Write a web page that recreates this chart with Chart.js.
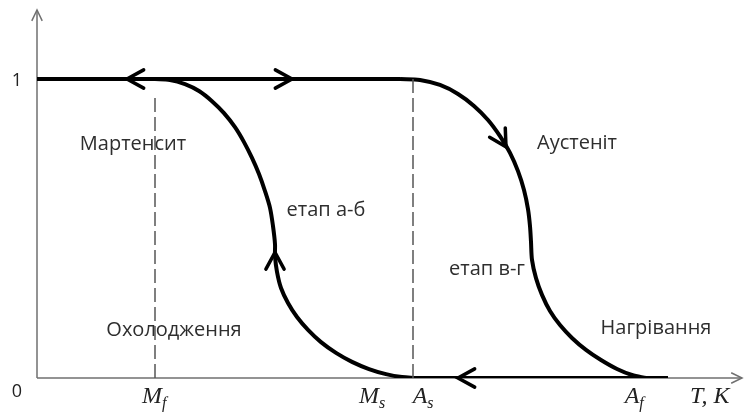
<!DOCTYPE html>
<html>
<head>
<meta charset="utf-8">
<script src="https://cdn.jsdelivr.net/npm/chart.js@4"></script>
<style>
  html, body { margin: 0; padding: 0; background: #fff; }
  #wrap { width: 744px; height: 412px; }
</style>
</head>
<body>
<div id="wrap"><canvas id="chart"></canvas></div>
<script>
// Heating branch (martensite -> austenite), temperature vs. phase fraction
const heatT = [363, 383, 403, 421, 437, 451, 463, 473, 481, 487, 491, 493, 494, 495, 499, 505, 513, 523, 535, 549, 564, 580, 595, 609]
const heatF = [1, 0.997, 0.98, 0.95, 0.91, 0.863, 0.809, 0.753, 0.692, 0.629, 0.565, 0.508, 0.455, 0.395, 0.334, 0.278, 0.224, 0.177, 0.134, 0.094, 0.06, 0.03, 0.01, 0]

// Cooling branch (austenite -> martensite)
const coolT = [118, 133, 148, 162, 175, 187, 198, 207, 215, 222, 228, 233, 236, 238, 238, 240, 244, 251, 260, 271, 284, 299, 315, 332, 349, 365, 378]
const coolF = [1, 0.997, 0.983, 0.96, 0.926, 0.886, 0.839, 0.789, 0.736, 0.682, 0.625, 0.569, 0.508, 0.448, 0.408, 0.355, 0.301, 0.251, 0.204, 0.161, 0.12, 0.084, 0.054, 0.03, 0.013, 0.003, 0]

// Flat parts of the loop
const topT = [0, 363]
const bottomT = [375, 631]

// Characteristic temperatures (dashed markers)
const Mf = 118
const As = 376

// Temperature tick labels: letter, subscript and where they sit
const tickMain = ['M', 'M', 'A', 'A']
const tickSub = ['f', 's', 's', 'f']
const tickAt = [115, 332, 383, 595]
const axisName = 'T, K'
const axisNameAt = 653

// Text inside the plot
const notes = ['Мартенсит', 'Аустеніт', 'етап а-б', 'етап в-г', 'Охолодження', 'Нагрівання']
const noteT = [96, 540, 289, 450, 137, 619]
const noteF = [0.783, 0.786, 0.562, 0.365, 0.161, 0.167]

// Direction arrows along the loop: tip and a point behind it
const arrowTip = [[90, 1], [255, 1], [421, 0], [469, 0.773], [238, 0.42]]
const arrowTail = [[110, 1], [235, 1], [441, 0], [459, 0.829], [238, 0.36]]

const toPoints = (xs, ys) => xs.map((x, i) => ({ x, y: ys[i] }))

const solid = {
  showLine: true,
  borderColor: '#000',
  borderWidth: 4,
  pointRadius: 0,
  fill: false,
}

function chevron(ctx, x, y, ang, len, spread) {
  ctx.beginPath()
  ctx.moveTo(x + len * Math.cos(ang + Math.PI - spread), y + len * Math.sin(ang + Math.PI - spread))
  ctx.lineTo(x, y)
  ctx.lineTo(x + len * Math.cos(ang + Math.PI + spread), y + len * Math.sin(ang + Math.PI + spread))
  ctx.stroke()
}

// Axes with arrow heads under the loop, labels and flow arrows on top
const axesPlugin = {
  id: 'axesPlugin',
  beforeDatasetsDraw(chart) {
    const { ctx, chartArea, scales: { x, y } } = chart
    const ox = x.getPixelForValue(0)
    const oy = y.getPixelForValue(0)
    ctx.save()
    ctx.strokeStyle = '#707070'
    ctx.lineWidth = 1.5
    ctx.beginPath()
    ctx.moveTo(ox, oy)
    ctx.lineTo(ox, chartArea.top)
    ctx.moveTo(ox, oy)
    ctx.lineTo(chartArea.right + 4, oy)
    ctx.stroke()
    chevron(ctx, ox, chartArea.top, -Math.PI / 2, 12, 0.45)
    chevron(ctx, chartArea.right + 4, oy, 0, 12, 0.45)
    ctx.restore()
  },
  afterDatasetsDraw(chart) {
    const { ctx, scales: { x, y } } = chart
    ctx.save()

    // flow arrows
    ctx.strokeStyle = '#000'
    ctx.lineWidth = 3.5
    ctx.lineCap = 'round'
    arrowTip.forEach((tip, i) => {
      const px = x.getPixelForValue(tip[0])
      const py = y.getPixelForValue(tip[1])
      const tx = x.getPixelForValue(arrowTail[i][0])
      const ty = y.getPixelForValue(arrowTail[i][1])
      chevron(ctx, px, py, Math.atan2(py - ty, px - tx), 19, 0.5)
    })

    // phase / stage notes
    ctx.fillStyle = '#2e2e2e'
    ctx.font = '20px "Open Sans"'
    ctx.textAlign = 'center'
    ctx.textBaseline = 'middle'
    notes.forEach((t, i) => {
      ctx.fillText(t, x.getPixelForValue(noteT[i]), y.getPixelForValue(noteF[i]))
    })

    // axis values 0 and 1
    ctx.fillStyle = '#222'
    ctx.font = '18px "Open Sans"'
    ctx.fillText('1', 17, y.getPixelForValue(1) + 2)
    ctx.fillText('0', 17, y.getPixelForValue(0) + 14)

    // temperature labels with subscripts
    const base = y.getPixelForValue(0) + 25
    ctx.textBaseline = 'alphabetic'
    tickMain.forEach((m, i) => {
      const cx = x.getPixelForValue(tickAt[i])
      ctx.font = 'italic 24px "Liberation Serif"'
      ctx.textAlign = 'center'
      ctx.fillText(m, cx, base)
      const w = ctx.measureText(m).width
      ctx.font = 'italic 16px "Liberation Serif"'
      ctx.textAlign = 'left'
      ctx.fillText(tickSub[i], cx + w / 2, base + 5)
    })
    ctx.font = 'italic 24px "Liberation Serif"'
    ctx.textAlign = 'left'
    ctx.fillText(axisName, x.getPixelForValue(axisNameAt), base)
    ctx.restore()
  },
}

new Chart(document.getElementById('chart'), {
  type: 'scatter',
  data: {
    datasets: [
      {
        ...solid,
        borderColor: '#555',
        borderWidth: 1.5,
        borderDash: [14, 5],
        data: toPoints([Mf, Mf], [0, 0.945]),
      },
      {
        ...solid,
        borderColor: '#555',
        borderWidth: 1.5,
        borderDash: [14, 5],
        data: toPoints([As, As], [0, 1]),
      },
      { ...solid, data: toPoints(topT, [1, 1]) },
      { ...solid, data: toPoints(bottomT, [0, 0]) },
      { ...solid, tension: 0.3, data: toPoints(heatT, heatF) },
      { ...solid, tension: 0.3, data: toPoints(coolT, coolF) },
    ],
  },
  options: {
    responsive: true,
    maintainAspectRatio: false,
    animation: false,
    layout: { padding: { left: 37, right: 6, top: 10, bottom: 34 } },
    scales: {
      x: { type: 'linear', min: 0, max: 701, display: false },
      y: { type: 'linear', min: 0, max: 1.2308, display: false },
    },
    plugins: {
      legend: { display: false },
      tooltip: { enabled: false },
    },
  },
  plugins: [axesPlugin],
})
</script>
</body>
</html>
